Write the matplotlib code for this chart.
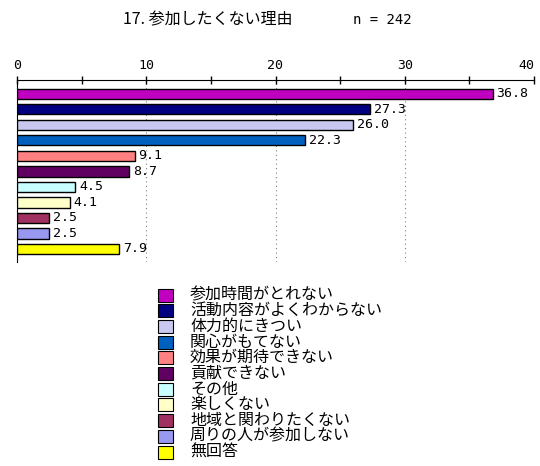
import matplotlib
matplotlib.use("Agg")
import matplotlib.pyplot as plt
from matplotlib.patches import Rectangle

plt.rcParams['font.family'] = ['Noto Sans CJK JP', 'DejaVu Sans']

# data
labels = ['参加時間がとれない', '活動内容がよくわからない', '体力的にきつい', '関心がもてない',
          '効果が期待できない', '貢献できない', 'その他', '楽しくない',
          '地域と関わりたくない', '周りの人が参加しない', '無回答']
values = [36.8, 27.3, 26.0, 22.3, 9.1, 8.7, 4.5, 4.1, 2.5, 2.5, 7.9]
colors = ['#C000C0', '#000080', '#C8C8F0', '#0060C0', '#FF8080', '#600060',
          '#C8FFFF', '#FFFFC8', '#A03060', '#9898F0', '#FFFF00']
xticks = [0, 10, 20, 30, 40]
title = '17. 参加したくない理由'
n_text = 'n = 242'

mono = 'DejaVu Sans Mono'
W, H = 540, 466

fig = plt.figure(figsize=(5.4, 4.66), dpi=100)
ax = fig.add_axes([17/W, 1-262/H, 517/W, 182/H])

ypos = list(range(len(values)))
ax.barh(ypos, values, height=0.65, color=colors, edgecolor='black', linewidth=1.0, zorder=3)
for y, v in zip(ypos, values):
    ax.text(v + 0.3, y, '%.1f' % v, va='center', ha='left', fontsize=9.5,
            family=mono, zorder=4)

ax.set_xlim(0, 40)
ax.set_ylim(10.84, -0.9)
ax.set_yticks([])
ax.set_xticks(xticks)
ax.set_xticklabels([str(t) for t in xticks], family=mono)
ax.set_xticks([5, 15, 25, 35], minor=True)
ax.xaxis.tick_top()
ax.tick_params(axis='x', which='both', direction='inout', length=6, width=1, labelsize=9.5, pad=3)
ax.xaxis.get_major_ticks()[-1].label2.set_horizontalalignment('right')
for x in xticks[1:]:
    ax.axvline(x, color='gray', linestyle=(0, (1, 3)), linewidth=0.8, zorder=1)
ax.spines['right'].set_visible(False)
ax.spines['bottom'].set_visible(False)

fig.text(123/W, 1-20/H, title, fontsize=11.5, va='center', ha='left')
fig.text(353/W, 1-20/H, n_text, fontsize=10, family=mono, va='center', ha='left')

# legend, one row per category
row0, pitch = 295, 15.7
for i, (c, lab) in enumerate(zip(colors, labels)):
    yc = row0 + i * pitch
    fig.patches.append(Rectangle((158/W, 1-(yc+6.5)/H), 15/W, 13/H, transform=fig.transFigure,
                                 facecolor=c, edgecolor='black', linewidth=0.8))
    fig.text(190/W, 1-yc/H, lab, fontsize=11.5, va='center', ha='left')

fig.savefig('out.png', dpi=100)
